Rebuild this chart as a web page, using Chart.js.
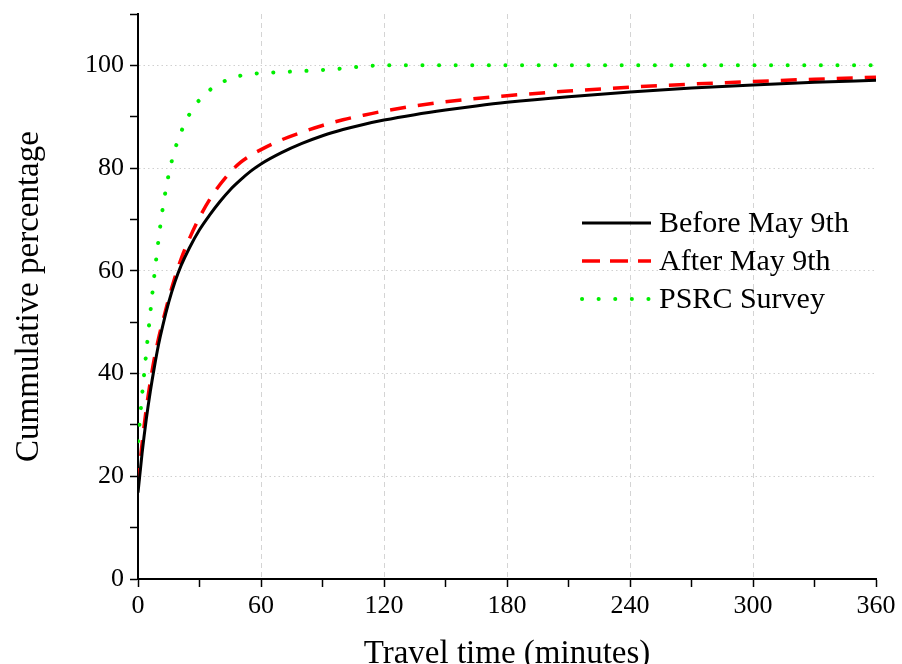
<!DOCTYPE html>
<html><head><meta charset="utf-8">
<script src="https://cdn.jsdelivr.net/npm/chart.js@4"></script>
<style>html,body{margin:0;padding:0;background:#fff}#wrap{width:902px;height:664px;position:relative}</style>
</head><body><div id="wrap"><canvas id="c" width="902" height="664"></canvas></div>
<script>
// Travel time (minutes) sample points
const timeMinutes = [0,2,4,6,8,10,12,15,18,21,25,30,35,40,45,50,55,60,70,80,90,100,110,120,135,150,165,180,210,240,270,300,330,360];
// Cumulative percentage series
const beforeMay9 = [16.8,24.5,31.0,36.5,41.3,45.6,49.2,53.9,57.8,61.0,64.4,68.0,70.9,73.5,75.8,77.7,79.4,80.8,83.0,84.8,86.3,87.5,88.5,89.35,90.4,91.3,92.1,92.8,93.9,94.8,95.6,96.2,96.7,97.1];
const afterMay9 = [18.5,26.4,33.0,38.4,43.0,46.8,50.0,54.6,58.7,62.3,66.2,70.4,73.9,76.8,79.2,81.1,82.5,83.6,85.5,87.0,88.3,89.4,90.3,91.1,92.1,92.9,93.55,94.1,95.0,95.75,96.35,96.85,97.3,97.7];
const psrcSurvey = [26.8,35.8,44.0,51.8,59.2,66.0,72.0,78.8,83.6,87.0,90.4,93.3,95.2,96.5,97.4,98.0,98.3,98.5,98.7,98.9,99.1,99.4,99.8,100,100,100,100,100,100,100,100,100,100,100];
const seriesLabels = ['Before May 9th','After May 9th','PSRC Survey'];
const xTickLabels = [0,60,120,180,240,300,360];
const yTickLabels = [0,20,40,60,80,100];
const xTitle = 'Travel time (minutes)';
const yTitle = 'Cummulative percentage';

const serif = "'Liberation Serif','Times New Roman',serif";
const toPts = vals => timeMinutes.map((t,i)=>({x:t,y:vals[i]}));

const legendPlugin = {
  id:'innerLegend',
  afterDatasetsDraw(chart){
    const ctx = chart.ctx;
    const x0 = 582, x1 = 651, tx = 659, y0 = 223, dy = 38;
    chart.data.datasets.forEach((ds,i)=>{
      const y = y0 + i*dy;
      ctx.save();
      ctx.strokeStyle = ds.borderColor; ctx.lineWidth = ds.borderWidth;
      ctx.setLineDash(ds.legendDash || []); ctx.lineCap = ds.borderCapStyle || 'butt';
      ctx.beginPath(); ctx.moveTo(x0,y); ctx.lineTo(x1,y); ctx.stroke();
      ctx.restore();
      ctx.save(); ctx.fillStyle='#000'; ctx.font='30px '+serif; ctx.textBaseline='middle';
      ctx.fillText(ds.label, tx, y+1); ctx.restore();
    });
  }
};

new Chart(document.getElementById('c'), {
  type:'line',
  data:{datasets:[
    {label:seriesLabels[0], data:toPts(beforeMay9), borderColor:'#000000', borderWidth:3, pointRadius:0, cubicInterpolationMode:'monotone', fill:false},
    {label:seriesLabels[1], data:toPts(afterMay9), borderColor:'#ff0000', borderWidth:3.5, borderDash:[16,12], legendDash:[18,10], pointRadius:0, cubicInterpolationMode:'monotone', fill:false},
    {label:seriesLabels[2], data:toPts(psrcSurvey), borderColor:'#00ee00', borderWidth:4, borderDash:[0.1,16.5], legendDash:[0.1,16.5], borderCapStyle:'round', pointRadius:0, cubicInterpolationMode:'monotone', fill:false}
  ]},
  options:{
    responsive:false, animation:false,
    layout:{padding:{top:14,right:26,left:0,bottom:0}},
    plugins:{legend:{display:false}, tooltip:{enabled:false}},
    scales:{
      x:{type:'linear', min:0, max:360,
        afterFit:s=>{s.height=85; s.paddingLeft=0; s.paddingRight=0;},
        ticks:{stepSize:30, autoSkip:false, maxRotation:0, padding:4, color:'#000', font:{family:serif,size:26},
          callback:v=> xTickLabels.includes(v) ? String(v) : ''},
        grid:{color:c=> (c.tick && c.tick.value%60===0 && c.tick.value>0 && c.tick.value<360) ? '#d4d4d4' : 'rgba(0,0,0,0)',
          lineWidth:1, tickColor:'#000', tickLength:8, tickWidth:1.5, drawTicks:true},
        border:{display:true, color:'#000', width:2, dash:[5,4]},
        title:{display:true, text:xTitle, color:'#000', font:{family:serif,size:33,lineHeight:0.6}, padding:{top:0,bottom:0}}
      },
      y:{type:'linear', min:0, max:110,
        afterFit:s=>{s.width=138; s.paddingTop=0; s.paddingBottom=0;},
        ticks:{stepSize:10, includeBounds:false, autoSkip:false, padding:6, color:'#000', font:{family:serif,size:26},
          callback:v=> yTickLabels.includes(v) ? String(v) : ''},
        grid:{color:c=> (c.tick && c.tick.value%20===0 && c.tick.value>0 && c.tick.value<=100) ? '#d0d0d0' : 'rgba(0,0,0,0)',
          lineWidth:1, tickColor:'#000', tickLength:8, tickWidth:1.5, drawTicks:true},
        border:{display:true, color:'#000', width:2, dash:[1.5,3]},
        title:{display:true, text:yTitle, color:'#000', font:{family:serif,size:33}, padding:{top:10,bottom:0}}
      }
    }
  },
  plugins:[legendPlugin]
});
</script></body></html>
